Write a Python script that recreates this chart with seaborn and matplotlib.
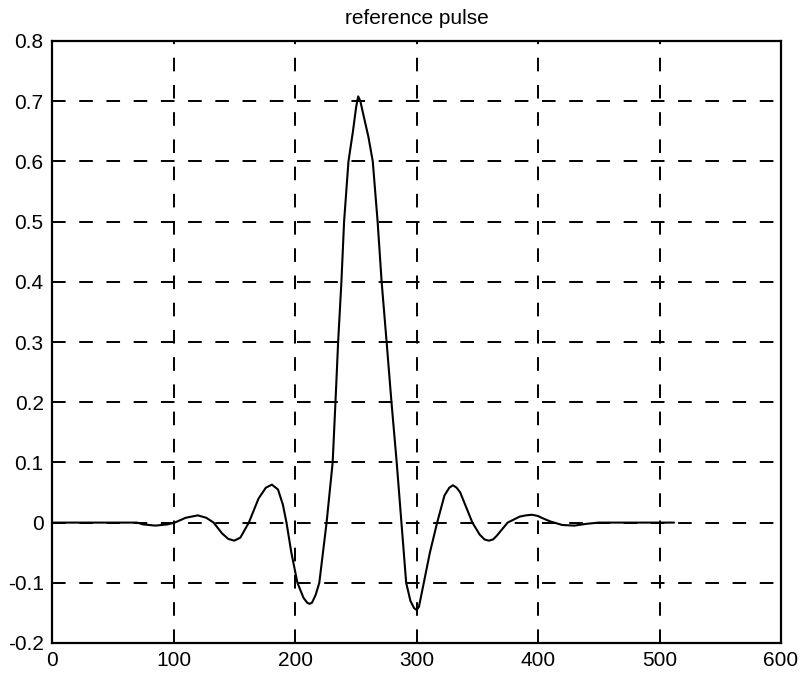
import matplotlib
matplotlib.use("Agg")
import matplotlib.pyplot as plt
import seaborn as sns
import pandas as pd

# Data
sample = [1, 30, 60, 70, 75, 85, 95, 101, 110, 120, 127, 133, 140, 145, 150, 155,
          162, 170, 176, 181, 186, 190, 193, 197, 202, 207, 210, 212, 214, 217,
          220, 223, 226, 228.5, 231, 233.3, 235.5, 238.2, 240.4, 244, 247.7, 250.3,
          252, 253.8, 256, 260.5, 264, 268, 271.3, 275.4, 279.4, 283.7, 287.6,
          291.5, 295, 298, 300, 302, 304, 306, 311, 317, 323, 327, 330, 333, 336,
          341, 346, 352, 356, 359.6, 363, 366, 375, 385, 390, 395, 400, 403, 410,
          420, 430, 440, 450, 480, 512]
amplitude = [0.0, 0.0, 0.0, 0.0, -0.003, -0.005, -0.003, 0.0, 0.008, 0.012, 0.008,
             0.0, -0.018, -0.027, -0.030, -0.025, 0.0, 0.040, 0.058, 0.063, 0.055,
             0.030, 0.0, -0.05, -0.10, -0.125, -0.133, -0.135, -0.133, -0.12,
             -0.10, -0.05, 0.0, 0.05, 0.10, 0.20, 0.30, 0.40, 0.50, 0.60, 0.65,
             0.69, 0.708, 0.70, 0.68, 0.64, 0.60, 0.50, 0.40, 0.30, 0.20, 0.10, 0.0,
             -0.10, -0.13, -0.142, -0.145, -0.14, -0.12, -0.10, -0.05, 0.0, 0.045,
             0.058, 0.062, 0.058, 0.05, 0.025, 0.0, -0.02, -0.028, -0.030, -0.028,
             -0.022, 0.0, 0.010, 0.012, 0.013, 0.011, 0.008, 0.002, -0.004, -0.005,
             -0.002, 0.0, 0.0, 0.0]
x_ticks = [0, 100, 200, 300, 400, 500, 600]
y_ticks = [-0.2, -0.1, 0, 0.1, 0.2, 0.3, 0.4, 0.5, 0.6, 0.7, 0.8]
y_tick_labels = ["-0.2", "-0.1", "0", "0.1", "0.2", "0.3", "0.4", "0.5", "0.6", "0.7", "0.8"]
title = "reference pulse"

df = pd.DataFrame({"sample": sample, "amplitude": amplitude})

sns.set_style("white")
plt.rcParams["font.family"] = ["Liberation Sans", "DejaVu Sans"]

fig = plt.figure(figsize=(8.01, 6.73), dpi=100)
ax = fig.add_axes([52 / 801, (673 - 643) / 673, 729 / 801, 602 / 673])

sns.lineplot(data=df, x="sample", y="amplitude", ax=ax, color="black",
             linewidth=1.5, sort=False)

ax.set_xlim(0, 600)
ax.set_ylim(-0.2, 0.8)
ax.set_xticks(x_ticks)
ax.set_xticklabels([str(t) for t in x_ticks])
ax.set_yticks(y_ticks)
ax.set_yticklabels(y_tick_labels)
ax.set_xlabel("")
ax.set_ylabel("")
ax.grid(True, color="black", linestyle=(0, (7, 7)), linewidth=1.4)
ax.tick_params(axis="both", direction="in", length=5, width=1.2, colors="black",
               labelsize=15, pad=6)
for s in ax.spines.values():
    s.set_visible(True)
    s.set_color("black")
    s.set_linewidth(1.6)
ax.set_title(title, fontsize=15, pad=12, color="black")

fig.savefig("out.png", dpi=100, facecolor="white")
